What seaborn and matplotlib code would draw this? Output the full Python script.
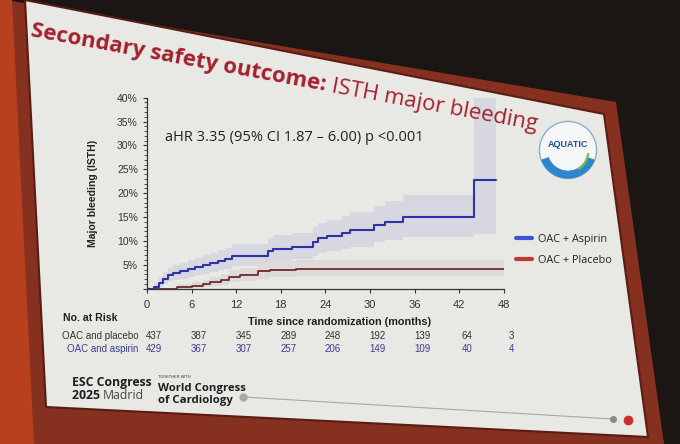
import numpy as np
import pandas as pd
import matplotlib
matplotlib.use("Agg")
import matplotlib.pyplot as plt
import seaborn as sns
from matplotlib.patches import Polygon, Circle, Wedge
from matplotlib.lines import Line2D
from matplotlib.ticker import MultipleLocator, FuncFormatter
from matplotlib.transforms import blended_transform_factory

# ---------------- data ----------------
month_ticks = [0, 6, 12, 18, 24, 30, 36, 42, 48]

# OAC + Aspirin cumulative incidence (%), step function
aspirin_t = [0, 0.9, 1.6, 2.2, 2.8, 3.5, 4.5, 5.5, 6.5, 7.5, 8.5, 9.5, 10.5, 11.5,
             16.3, 17.0, 19.5, 22.3, 23.0, 24.2, 26.2, 27.3, 30.5, 32.0, 34.5, 44.0, 47.0]
aspirin_v = [0, 0.4, 1.1, 2.0, 2.8, 3.3, 3.7, 4.2, 4.6, 5.0, 5.3, 5.8, 6.2, 6.9,
             7.9, 8.4, 8.8, 9.8, 10.5, 11.0, 11.7, 12.3, 13.3, 14.0, 15.0, 22.8, 22.8]
aspirin_lo = [0, 0.1, 0.4, 0.9, 1.5, 1.8, 2.1, 2.5, 2.8, 3.1, 3.4, 3.8, 4.1, 4.7,
              5.4, 5.8, 6.1, 6.9, 7.4, 7.8, 8.3, 8.8, 9.7, 10.2, 10.9, 11.5, 11.5]
aspirin_hi = [0, 1.2, 2.4, 3.4, 4.3, 4.9, 5.4, 6.0, 6.5, 7.0, 7.4, 8.0, 8.5, 9.4,
              10.6, 11.2, 11.7, 12.9, 13.8, 14.4, 15.2, 16.0, 17.4, 18.3, 19.6, 40.0, 40.0]

# OAC + Placebo cumulative incidence (%), step function
placebo_t = [0, 4.0, 6.0, 7.5, 8.5, 10.0, 11.0, 12.5, 15.0, 16.5, 20.0, 48.0]
placebo_v = [0, 0.3, 0.6, 1.0, 1.4, 1.8, 2.5, 2.9, 3.6, 4.0, 4.2, 4.2]
placebo_lo = [0, 0.0, 0.1, 0.3, 0.5, 0.8, 1.3, 1.6, 2.1, 2.4, 2.6, 2.6]
placebo_hi = [0, 0.9, 1.4, 1.9, 2.5, 3.0, 3.9, 4.4, 5.3, 5.8, 6.0, 6.0]

risk_placebo = [437, 387, 345, 289, 248, 192, 139, 64, 3]
risk_aspirin = [429, 367, 307, 257, 206, 149, 109, 40, 4]

series_names = ["OAC + Aspirin", "OAC + Placebo"]
title_bold = "Secondary safety outcome:"
title_rest = "ISTH major bleeding"
hr_text = "aHR 3.35 (95% CI 1.87 \u2013 6.00) p <0.001"

# ---------------- style ----------------
sns.set_theme(style="ticks")
plt.rcParams['font.family'] = ['Liberation Sans', 'DejaVu Sans']
SLIDE_FONT = ['Open Sans', 'DejaVu Sans']

W, H = 680, 444
fig = plt.figure(figsize=(6.8, 4.44), dpi=100)
fig.patch.set_facecolor('#1b1514')

def P(x, y):
    return (x / W, 1 - y / H)

# projector screen frame and slide (background decoration)
fig.patches.append(Polygon([P(6, 0), P(616, 102), P(664, 444), P(28, 444)], closed=True,
                           transform=fig.transFigure, facecolor='#86301f', edgecolor='none', zorder=-10))
fig.patches.append(Polygon([P(0, 0), P(12, 0), P(34, 444), P(0, 444)], closed=True,
                           transform=fig.transFigure, facecolor='#b8401f', edgecolor='none', zorder=-10))
fig.patches.append(Polygon([P(25, 0), P(604, 114), P(648, 437), P(46, 407)], closed=True,
                           transform=fig.transFigure, facecolor='#e8e8e4', edgecolor='#5a1c14',
                           linewidth=1.5, zorder=-9))

# ---------------- main axes ----------------
ax = fig.add_axes([0.216, 0.35, 0.525, 0.43])
ax.set_facecolor('none')

ax.fill_between(aspirin_t, aspirin_lo, aspirin_hi, step='post', color='#d6d7e0', lw=0, zorder=1)
ax.fill_between(placebo_t, placebo_lo, placebo_hi, step='post', color='#dfd9d9', lw=0, zorder=1)

df_a = pd.DataFrame({'month': aspirin_t, 'pct': aspirin_v})
df_p = pd.DataFrame({'month': placebo_t, 'pct': placebo_v})
sns.lineplot(data=df_p, x='month', y='pct', ax=ax, color='#6e2a2c', lw=1.3,
             drawstyle='steps-post', estimator=None, zorder=3)
sns.lineplot(data=df_a, x='month', y='pct', ax=ax, color='#2f33a3', lw=1.5,
             drawstyle='steps-post', estimator=None, zorder=4)

ax.set_xlim(0, 48)
ax.set_ylim(0, 40)
ax.set_xticks(month_ticks)
ax.yaxis.set_major_locator(MultipleLocator(5))
ax.yaxis.set_minor_locator(MultipleLocator(1))
ax.yaxis.set_major_formatter(FuncFormatter(lambda v, p: '' if v == 0 else f'{int(v)}%'))
ax.tick_params(axis='both', labelsize=7.5, colors='#333333', length=3, width=0.8)
ax.tick_params(axis='y', which='minor', length=2, width=0.6, colors='#333333')
ax.tick_params(axis='x', pad=5, labelsize=8)
ax.set_xlabel('')
ax.set_ylabel('Major bleeding (ISTH)', fontsize=7.5, fontweight='bold', color='#222222', labelpad=14)
sns.despine(ax=ax)
for s in ['left', 'bottom']:
    ax.spines[s].set_color('#333333')
    ax.spines[s].set_linewidth(0.9)

ax.text(2.5, 31, hr_text, fontsize=10.5, color='#222222', family=SLIDE_FONT)

# x axis title & risk table
fig.text(340 / W, 1 - 322 / H, 'Time since randomization (months)', fontsize=7.8,
         fontweight='bold', color='#222222', ha='center', va='center')
fig.text(63 / W, 1 - 318 / H, 'No. at Risk', fontsize=7.6, fontweight='bold', color='#222222',
         ha='left', va='center')
fig.text(62 / W, 1 - 336 / H, 'OAC and placebo', fontsize=7, color='#333333', ha='left', va='center')
fig.text(67 / W, 1 - 349 / H, 'OAC and aspirin', fontsize=7, color='#3a3f8f', ha='left', va='center')
trans = blended_transform_factory(ax.transData, fig.transFigure)
for m, a, b in zip(month_ticks, risk_placebo, risk_aspirin):
    ax.text(m + 1.0, 1 - 336 / H, str(a), transform=trans, fontsize=7, color='#333333',
            ha='center', va='center')
    ax.text(m + 1.0, 1 - 349 / H, str(b), transform=trans, fontsize=7, color='#3a3f8f',
            ha='center', va='center')

# ---------------- slide title (follows the tilted screen) ----------------
renderer = fig.canvas.get_renderer()
angle = -10.5
tmp = fig.text(0, 0, title_bold + ' ', fontsize=16, fontweight='bold', family=SLIDE_FONT)
w_bold = tmp.get_window_extent(renderer=renderer).width
tmp.remove()
x0, y0 = 30, 36  # baseline start in pixels (from top-left)
rad = np.deg2rad(-angle)
x1 = x0 + w_bold * np.cos(rad)
y1 = y0 + w_bold * np.sin(rad)
fig.text(x0 / W, 1 - y0 / H, title_bold, fontsize=16, fontweight='bold', color='#a3212f',
         family=SLIDE_FONT, ha='left', va='baseline', rotation=angle, rotation_mode='anchor')
fig.text(x1 / W, 1 - y1 / H, title_rest, fontsize=16, color='#a3212f',
         family=SLIDE_FONT, ha='left', va='baseline', rotation=angle, rotation_mode='anchor')

# ---------------- legend ----------------
handles = [Line2D([0], [0], color='#3d55cf', lw=3), Line2D([0], [0], color='#c13a30', lw=3)]
fig.legend(handles, series_names, loc='upper left', bbox_to_anchor=(0.745, 0.495),
           frameon=False, handlelength=1.4, handletextpad=0.6, labelspacing=0.9,
           labelcolor='#222222', prop={'family': SLIDE_FONT, 'size': 7.8})

# ---------------- AQUATIC logo ----------------
lax = fig.add_axes([538 / W, 1 - 180 / H, 60 / W, 60 / H])
lax.set_xlim(-1.05, 1.05)
lax.set_ylim(-1.05, 1.05)
lax.set_aspect('equal')
lax.axis('off')
lax.add_patch(Circle((0, 0), 1, facecolor='#f4f6f8', edgecolor='#8fb0c8', lw=1))
lax.add_patch(Wedge((0, 0), 1, 200, 340, facecolor='#2f86cf', edgecolor='none'))
lax.add_patch(Wedge((0, 0), 0.72, 190, 350, facecolor='#f4f6f8', edgecolor='none'))
lax.add_patch(Wedge((0, -0.05), 0.75, 300, 355, width=0.08, facecolor='#79b84a', edgecolor='none'))
lax.text(0, 0.2, 'AQUATIC', ha='center', va='center', fontsize=6.5, fontweight='bold', color='#1f4f96')

# ---------------- footer ----------------
fig.text(72 / W, 1 - 382 / H, 'ESC Congress', fontsize=8.8, fontweight='bold', color='#1e1e1e',
         family=SLIDE_FONT, va='center')
t2025 = fig.text(72 / W, 1 - 395 / H, '2025 ', fontsize=8.8, fontweight='bold', color='#1e1e1e',
                 family=SLIDE_FONT, va='center')
w2025 = t2025.get_window_extent(renderer=renderer).width
fig.text((72 + w2025) / W, 1 - 395 / H, 'Madrid', fontsize=8.8, color='#444444',
         family=SLIDE_FONT, va='center')
fig.text(158 / W, 1 - 377 / H, 'TOGETHER WITH', fontsize=2.8, color='#333333', va='center')
fig.text(158 / W, 1 - 388 / H, 'World Congress', fontsize=8.2, fontweight='bold', color='#1e1e1e',
         family=SLIDE_FONT, va='center')
fig.text(158 / W, 1 - 400 / H, 'of Cardiology', fontsize=8.2, fontweight='bold', color='#1e1e1e',
         family=SLIDE_FONT, va='center')
fig.add_artist(Line2D([243 / W, 613 / W], [1 - 397 / H, 1 - 419 / H], color='#a8a8a8', lw=0.8,
                      transform=fig.transFigure))
fig.add_artist(Line2D([243 / W], [1 - 397 / H], marker='o', ms=5, color='#a8a8a8', transform=fig.transFigure))
fig.add_artist(Line2D([613 / W], [1 - 419 / H], marker='o', ms=4, color='#888888', transform=fig.transFigure))
fig.add_artist(Line2D([628 / W], [1 - 420 / H], marker='o', ms=6, color='#c8312a', transform=fig.transFigure))

fig.savefig('out.png', dpi=100, facecolor=fig.get_facecolor())
